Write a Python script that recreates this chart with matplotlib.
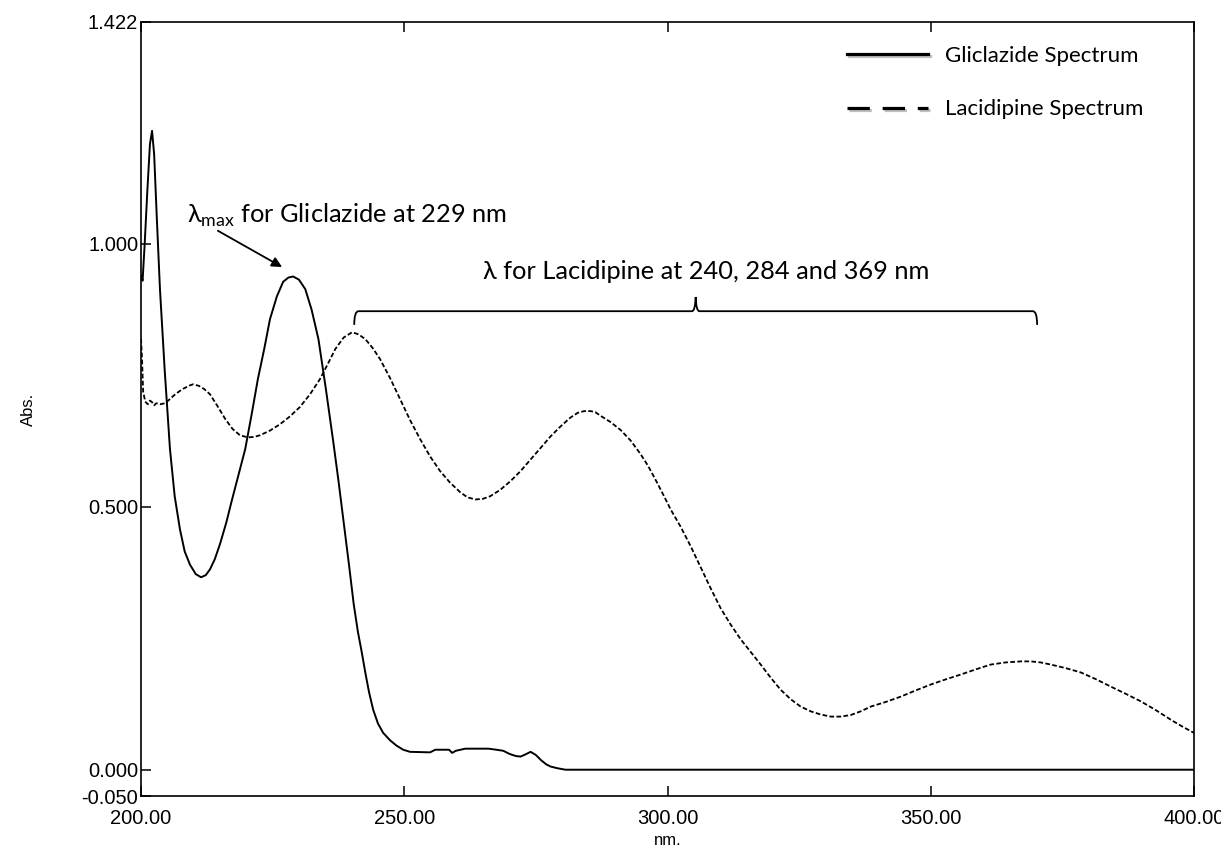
import matplotlib
matplotlib.use("Agg")
import matplotlib.pyplot as plt
from matplotlib.lines import Line2D
from matplotlib.path import Path
from matplotlib.patches import PathPatch
import matplotlib.patheffects as pe

# ---------------- data ----------------
gli_nm = [200.0, 200.3, 200.7, 201.2, 201.7, 202.1, 202.5, 203.0, 203.6, 204.5, 205.5,
          206.4, 207.4, 208.3, 209.3, 210.4, 211.4, 212.3, 213.1, 214.0, 215.0, 216.2,
          217.3, 218.5, 219.8, 221.0, 222.2, 223.4, 224.5, 225.8, 227.0, 228.0, 228.9,
          230.0, 231.2, 232.4, 233.7, 235.1, 236.5, 237.5, 238.5, 239.5, 240.4, 241.2,
          241.9, 242.6, 243.3, 244.1, 245.0, 246.0, 247.3, 248.5, 249.8, 251.1, 254.9,
          255.9, 258.5, 259.1, 259.8, 261.6, 266.0, 267.5, 268.8, 270.0, 271.2, 272.1,
          273.0, 274.0, 275.0, 276.0, 277.0, 277.8, 279.0, 280.6, 300.0, 350.0, 400.0]
gli_abs = [0.94, 0.93, 1.00, 1.10, 1.19, 1.215, 1.17, 1.05, 0.914, 0.76, 0.61,
           0.52, 0.457, 0.415, 0.39, 0.372, 0.366, 0.370, 0.381, 0.40, 0.429, 0.47,
           0.514, 0.56, 0.61, 0.675, 0.743, 0.80, 0.857, 0.90, 0.928, 0.936, 0.938,
           0.932, 0.914, 0.875, 0.819, 0.725, 0.625, 0.55, 0.47, 0.39, 0.315, 0.262,
           0.225, 0.185, 0.148, 0.114, 0.088, 0.070, 0.056, 0.046, 0.038, 0.034, 0.033,
           0.038, 0.038, 0.032, 0.036, 0.040, 0.040, 0.038, 0.036, 0.030, 0.026, 0.025,
           0.029, 0.034, 0.028, 0.018, 0.010, 0.006, 0.003, 0.0, 0.0, 0.0, 0.0]

lac_nm = [200.0, 200.2, 200.4, 200.8, 201.3, 201.7, 202.1, 202.5, 202.9, 203.6, 204.6,
          205.5, 206.5, 207.9, 209.3, 209.9, 211.0, 212.0, 213.1, 214.5, 216.0, 217.4,
          218.8, 220.3, 221.5, 222.6, 224.5, 226.4, 228.3, 230.2, 232.1, 234.0, 235.5,
          236.9, 238.5, 240.1, 241.3, 242.6, 244.0, 245.4, 247.3, 249.2, 251.1, 253.0,
          254.9, 256.8, 258.7, 260.6, 262.0, 263.5, 264.9, 266.3, 268.2, 270.2, 272.1,
          274.0, 275.9, 277.8, 279.7, 281.6, 283.0, 284.2, 285.4, 286.3, 287.3, 289.2,
          291.1, 293.0, 294.9, 296.3, 297.7, 299.2, 300.6, 302.5, 304.4, 306.3, 308.2,
          310.1, 312.0, 313.9, 315.8, 317.7, 319.6, 321.5, 323.4, 325.3, 327.2, 329.1,
          331.0, 332.9, 334.8, 336.7, 338.6, 341.5, 344.3, 347.2, 350.0, 352.9, 355.7,
          358.6, 361.4, 364.2, 367.1, 369.0, 370.9, 372.8, 375.7, 378.5, 381.4, 384.2,
          387.1, 389.9, 392.8, 395.6, 397.8, 400.0]
lac_abs = [0.82, 0.78, 0.72, 0.70, 0.695, 0.702, 0.699, 0.693, 0.697, 0.695, 0.697,
           0.705, 0.714, 0.724, 0.731, 0.733, 0.730, 0.724, 0.714, 0.692, 0.667, 0.648,
           0.636, 0.632, 0.633, 0.636, 0.645, 0.657, 0.672, 0.69, 0.714, 0.743, 0.772,
           0.80, 0.822, 0.832, 0.828, 0.819, 0.802, 0.781, 0.745, 0.705, 0.665, 0.629,
           0.596, 0.568, 0.546, 0.528, 0.518, 0.514, 0.515, 0.52, 0.532, 0.549, 0.568,
           0.59, 0.612, 0.634, 0.653, 0.67, 0.679, 0.682, 0.682, 0.680, 0.673, 0.661,
           0.646, 0.626, 0.60, 0.578, 0.552, 0.523, 0.495, 0.462, 0.425, 0.385, 0.345,
           0.307, 0.276, 0.248, 0.224, 0.20, 0.175, 0.152, 0.134, 0.12, 0.111, 0.105,
           0.101, 0.101, 0.104, 0.111, 0.12, 0.129, 0.139, 0.151, 0.162, 0.172, 0.181,
           0.191, 0.20, 0.204, 0.206, 0.206, 0.204, 0.20, 0.193, 0.185, 0.172, 0.158,
           0.144, 0.13, 0.113, 0.095, 0.082, 0.07]

x_ticks = [200, 250, 300, 350, 400]
x_tick_labels = ["200.00", "250.00", "300.00", "350.00", "400.00"]
y_ticks = [-0.05, 0.0, 0.5, 1.0, 1.422]
y_tick_labels = ["-0.050", "0.000", "0.500", "1.000", "1.422"]
series_names = ["Gliclazide Spectrum", "Lacidipine Spectrum"]
gli_lambda_max = 229
lac_lambdas = [240, 284, 369]

# ---------------- style ----------------
plt.rcParams["mathtext.fontset"] = "custom"
plt.rcParams["mathtext.rm"] = "Lato"
ANN_FONT = ["Lato", "DejaVu Sans"]
TICK_FONT = "Liberation Sans"

fig = plt.figure(figsize=(12.21, 8.47), dpi=100)
ax = fig.add_axes([141 / 1221, 51 / 847, 1053 / 1221, 774 / 847])

ax.plot(gli_nm, gli_abs, color="black", lw=1.4, solid_joinstyle="round")
ax.plot(lac_nm, lac_abs, color="black", lw=1.3, linestyle=(0, (2.6, 1.3)))

ax.set_xlim(200, 400)
ax.set_ylim(-0.05, 1.422)

ax.set_xticks(x_ticks)
ax.set_xticklabels(x_tick_labels, fontfamily=TICK_FONT, fontsize=14.5)
ax.set_yticks(y_ticks)
ax.set_yticklabels(y_tick_labels, fontfamily=TICK_FONT, fontsize=14.5)
ax.tick_params(axis="x", direction="in", length=7, width=1.1, top=True, pad=9)
ax.tick_params(axis="y", direction="in", length=7, width=1.1, pad=2)
for s in ax.spines.values():
    s.set_linewidth(1.2)

ax.set_xlabel("nm.", fontfamily=TICK_FONT, fontsize=12, labelpad=4)
ax.set_ylabel("Abs.", fontfamily=TICK_FONT, fontsize=12, labelpad=33)

# legend with proxy handles (thick lines with soft shadow)
shadow = [pe.SimpleLineShadow(offset=(1.2, -1.5), shadow_color="gray", alpha=0.5), pe.Normal()]
h1 = Line2D([], [], color="black", lw=2.3, path_effects=shadow)
h2 = Line2D([], [], color="black", lw=2.3, linestyle=(0, (7.0, 4.0)), path_effects=shadow)
leg = ax.legend([h1, h2], series_names, loc="upper left",
                bbox_to_anchor=((847 - 141) / 1053, (796 - 46) / 774),
                frameon=False, borderpad=0, borderaxespad=0,
                handlelength=3.65, handletextpad=0.75, labelspacing=1.5,
                prop={"family": ANN_FONT, "size": 16})

# annotation for gliclazide lambda max
ax.text(208.8, 1.028, "λ$_{\\mathrm{max}}$ for Gliclazide at %d nm" % gli_lambda_max,
        ha="left", va="bottom", fontsize=18.3, family=ANN_FONT)
ax.annotate("", xy=(226.8, 0.956), xytext=(214.6, 1.025),
            arrowprops=dict(arrowstyle="-|>", color="black", lw=1.3,
                            mutation_scale=15, shrinkA=0, shrinkB=0))

# brace over lacidipine maxima
x0, x1 = lac_lambdas[0] + 0.5, lac_lambdas[-1] + 1.2
xm = (x0 + x1) / 2
yb, yl, yt = 0.872, 0.846, 0.899
verts = [(x0, yl), (x0, yb), (x0 + 0.8, yb),
         (xm - 0.7, yb), (xm - 0.1, yb), (xm, yt), (xm + 0.1, yb), (xm + 0.7, yb),
         (x1 - 0.8, yb), (x1, yb), (x1, yl)]
codes = [Path.MOVETO, Path.CURVE3, Path.CURVE3,
         Path.LINETO, Path.CURVE3, Path.CURVE3, Path.CURVE3, Path.CURVE3,
         Path.LINETO, Path.CURVE3, Path.CURVE3]
ax.add_patch(PathPatch(Path(verts, codes), fill=False, color="black", lw=1.3))
ax.text(xm + 2, 0.925, "λ for Lacidipine at %d, %d and %d nm" % tuple(lac_lambdas),
        ha="center", va="bottom", fontsize=18.3, family=ANN_FONT)

fig.savefig("out.png", dpi=100)
